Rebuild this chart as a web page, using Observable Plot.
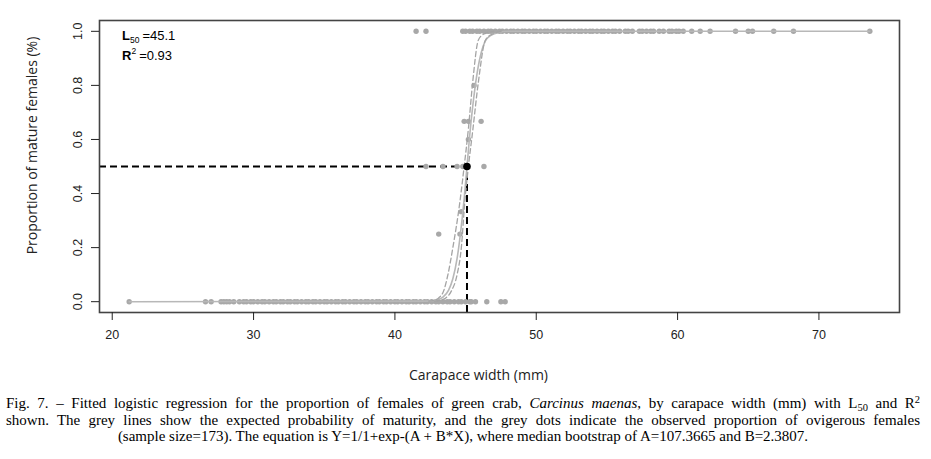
<!DOCTYPE html>
<html><head><meta charset="utf-8">
<script src="https://cdn.jsdelivr.net/npm/d3@7"></script>
<script src="https://cdn.jsdelivr.net/npm/@observablehq/plot@0.6"></script>
<style>
body{margin:0;background:#fff;}
#cap{font-family:"Liberation Serif","Times New Roman",serif;font-size:15px;line-height:16.5px;color:#000;padding:5px 0 0 6px;width:914px;}
#cap div{white-space:nowrap;}
.j{text-align:justify;text-align-last:justify;}
.c{text-align:center;text-align-last:center;}
.sb{font-size:70%;vertical-align:-3px;line-height:0;}
.sp{font-size:70%;vertical-align:5px;line-height:0;}
</style></head><body>
<div id="chart"></div>
<div id="cap">
<div class="j">Fig. 7. – Fitted logistic regression for the proportion of females of green crab, <i>Carcinus maenas</i>, by carapace width (mm) with L<span class="sb">50</span> and R<span class="sp">2</span></div>
<div class="j">shown. The grey lines show the expected probability of maturity, and the grey dots indicate the observed proportion of ovigerous females</div>
<div class="c">(sample size=173). The equation is Y=1/1+exp-(A + B*X), where median bootstrap of A=107.3665 and B=2.3807.</div>
</div>
<script>
// observed proportions: widths with proportion 0
const zeroX = [21.2, 26.6, 27.0, 27.7, 27.9, 28.1, 28.3, 28.6, 29.0, 29.3, 29.5, 29.8, 30.0, 30.3, 30.6, 30.8, 31.1, 31.4,
  31.6, 31.9, 32.1, 32.4, 32.6, 32.9, 33.1, 33.4, 33.7, 33.9, 34.2, 34.4, 34.7, 35.0, 35.2, 35.5, 35.8, 36.0, 36.3, 36.5,
  36.8, 37.1, 37.3, 37.6, 37.9, 38.1, 38.4, 38.7, 38.9, 39.2, 39.4, 39.7, 40.0, 40.2, 40.5, 40.8, 41.0, 41.3, 41.5, 41.8,
  42.1, 42.3, 42.6, 42.9, 43.1, 43.4, 43.7, 43.9, 44.2, 44.5, 44.7, 45.0, 45.3, 45.4, 45.7, 46.5, 47.5, 47.8];
// widths with proportion 1
const oneX = [41.5, 42.2, 44.8, 45.0, 45.3, 45.5, 45.8, 46.0, 46.3, 46.6, 46.8, 47.1, 47.4, 47.6, 47.9, 48.2, 48.4, 48.7,
  49.0, 49.2, 49.5, 49.8, 50.0, 50.3, 50.6, 50.8, 51.1, 51.4, 51.6, 51.9, 52.2, 52.4, 52.7, 53.0, 53.2, 53.5, 53.8, 54.0,
  54.3, 54.6, 54.8, 55.1, 55.4, 55.6, 55.9, 56.3, 56.5, 56.8, 57.3, 57.5, 57.8, 58.1, 58.3, 58.7, 59.0, 59.4, 59.6, 59.9,
  60.1, 60.4, 61.0, 61.6, 62.3, 64.1, 65.0, 65.3, 66.8, 68.2, 73.6];
// widths with intermediate proportions
const midX = [43.1, 44.6, 44.7, 42.2, 43.4, 44.4, 44.8, 46.3, 45.2, 44.9, 45.2, 46.1, 45.6];
const midP = [0.25, 0.25, 0.333, 0.5, 0.5, 0.5, 0.5, 0.5, 0.6, 0.667, 0.667, 0.667, 0.8];
// fitted curve (solid) and bootstrap bounds (dashed)
const fitX = [21.2, 42.5, 43.0, 43.4, 43.8, 44.1, 44.4, 44.7, 44.9, 45.1, 45.3, 45.5, 45.8, 46.1, 46.4, 46.8, 47.3, 48.0, 73.6];
const fitP = [0, 0.002, 0.007, 0.017, 0.043, 0.085, 0.16, 0.28, 0.38, 0.5, 0.62, 0.72, 0.84, 0.92, 0.965, 0.985, 0.995, 1.0, 1.0];
const loX = [42.4, 42.8, 43.1, 43.45, 43.75, 44.1, 44.6, 44.9, 45.2, 45.5, 45.9, 46.3, 47.0];
const loP = [0.002, 0.006, 0.014, 0.04, 0.10, 0.2, 0.37, 0.5, 0.64, 0.81, 0.967, 0.99, 1.0];
const hiX = [42.8, 43.3, 43.6, 44.0, 44.4, 44.7, 44.95, 45.2, 45.5, 45.9, 46.4, 46.9, 47.6];
const hiP = [0.002, 0.007, 0.014, 0.04, 0.10, 0.2, 0.373, 0.5, 0.63, 0.81, 0.967, 0.99, 1.0];
const L50 = 45.1, R2 = 0.93;
const xTicks = [20, 30, 40, 50, 60, 70];
const yTicks = [0, 0.2, 0.4, 0.6, 0.8, 1.0];
const xDomain = [19.1, 75.7], yDomain = [-0.04, 1.04];
const xTitle = "Carapace width (mm)", yTitle = "Proportion of mature females (%)";

const pts = [
  ...zeroX.map(x => ({x, p: 0})),
  ...oneX.map(x => ({x, p: 1})),
  ...midX.map((x, i) => ({x, p: midP[i]}))
];
const fit = fitX.map((x, i) => ({x, p: fitP[i]}));
const lo = loX.map((x, i) => ({x, p: loP[i]}));
const hi = hiX.map((x, i) => ({x, p: hiP[i]}));

const grey = "#a8a8a8";
const chart = Plot.plot({
  width: 931, height: 390,
  marginLeft: 99, marginRight: 32, marginTop: 20, marginBottom: 78,
  style: {fontFamily: "Liberation Sans, Arial, sans-serif", fontSize: "12px", color: "#222", background: "white"},
  x: {domain: xDomain},
  y: {domain: yDomain},
  marks: [
    Plot.ruleY([0.5], {x1: xDomain[0], x2: L50, stroke: "black", strokeWidth: 2, strokeDasharray: "7,4"}),
    Plot.ruleX([L50], {y1: yDomain[0], y2: 0.5, stroke: "black", strokeWidth: 2, strokeDasharray: "7,4"}),
    Plot.dot(pts, {x: "x", y: "p", r: 2.7, fill: grey, stroke: "none"}),
    Plot.line(fit, {x: "x", y: "p", stroke: "#b8b8b8", strokeWidth: 1.6, curve: "monotone-x"}),
    Plot.line(lo, {x: "x", y: "p", stroke: "#a4a4a4", strokeWidth: 1.3, strokeDasharray: "5,3", curve: "monotone-x"}),
    Plot.line(hi, {x: "x", y: "p", stroke: "#a4a4a4", strokeWidth: 1.3, strokeDasharray: "5,3", curve: "monotone-x"}),
    Plot.dot([{x: L50, p: 0.5}], {x: "x", y: "p", r: 3.8, fill: "black"}),
    Plot.frame({stroke: "#444", strokeWidth: 1.6}),
    Plot.axisX({ticks: xTicks, tickSize: 8, tickPadding: 10, label: null, fontSize: 12.5}),
    Plot.axisY({ticks: yTicks, tickSize: 8, tickFormat: () => "", label: null}),
    Plot.text(yTicks, {y: d => d, text: d => d.toFixed(1), frameAnchor: "left", dx: -22, rotate: -90, textAnchor: "middle", fontSize: 12.5}),
    Plot.text([xTitle], {text: d => d, frameAnchor: "bottom", dy: 67, dx: -21, textAnchor: "middle", fontFamily: "Open Sans", fontSize: 14}),
    Plot.text([yTitle], {text: d => d, frameAnchor: "left", dx: -67, dy: -21, rotate: -90, textAnchor: "middle", fontFamily: "Open Sans", fontSize: 14})
  ]
});
document.getElementById("chart").appendChild(chart);

// annotation
const ann = d3.select(chart).append("g")
  .attr("font-family", "Liberation Sans, Arial, sans-serif").attr("font-size", 13)
  .attr("fill", "#000").attr("text-anchor", "start");
const t1 = ann.append("text").attr("x", 122).attr("y", 40);
t1.append("tspan").attr("font-weight", "bold").text("L");
t1.append("tspan").attr("font-size", 8.5).attr("dy", 3).text("50");
t1.append("tspan").attr("dy", -3).attr("dx", 3).text("=" + L50);
const t2 = ann.append("text").attr("x", 122).attr("y", 60);
t2.append("tspan").attr("font-weight", "bold").text("R");
t2.append("tspan").attr("font-size", 8.5).attr("dy", -6).text("2");
t2.append("tspan").attr("dy", 6).attr("dx", 3).text("=" + R2);
</script>
</body></html>
